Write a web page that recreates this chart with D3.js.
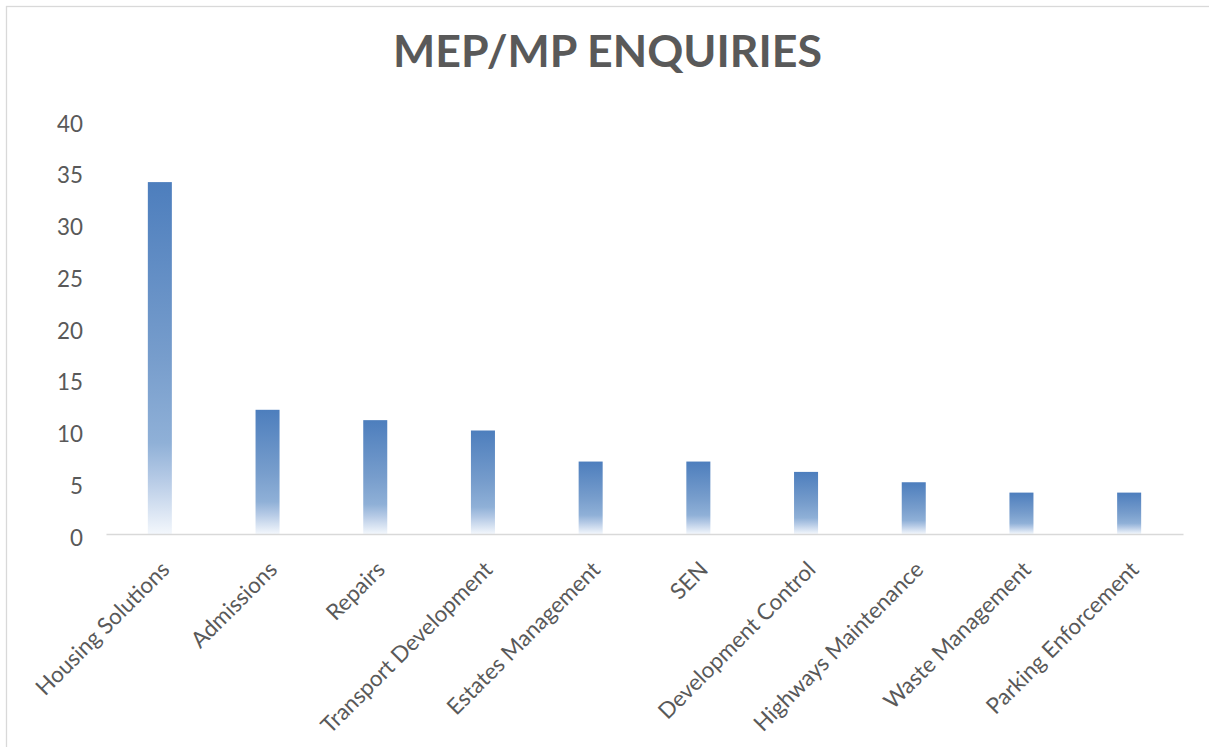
<!DOCTYPE html>
<html>
<head>
<meta charset="utf-8">
<script src="https://cdn.jsdelivr.net/npm/d3@7"></script>
<style>
  html, body { margin: 0; padding: 0; background: #ffffff; }
  svg { display: block; }
</style>
</head>
<body>
<svg id="chart" width="1209" height="747"></svg>
<script>
const titleText = "MEP/MP ENQUIRIES";
const categories = ["Housing Solutions", "Admissions", "Repairs", "Transport Development",
  "Estates Management", "SEN", "Development Control", "Highways Maintenance",
  "Waste Management", "Parking Enforcement"];
const values = [34, 12, 11, 10, 7, 7, 6, 5, 4, 4];
const yTicks = [0, 5, 10, 15, 20, 25, 30, 35, 40];

const W = 1209, H = 747;
const svg = d3.select("#chart");
const FONT = "Lato, 'Open Sans', sans-serif";
const TEXT_COLOR = "#595959";

// chart area border
svg.append("rect")
  .attr("x", 6.5).attr("y", 6.5)
  .attr("width", W + 20).attr("height", H + 20)
  .attr("fill", "#ffffff")
  .attr("stroke", "#d9d9d9").attr("stroke-width", 1.3);

// gradient
const defs = svg.append("defs");
const grad = defs.append("linearGradient")
  .attr("id", "barGrad").attr("x1", 0).attr("y1", 0).attr("x2", 0).attr("y2", 1);
[[0, "#4d7ebd"], [0.5, "#779dcc"], [0.74, "#8fb0d7"], [0.84, "#b4c9e5"], [1, "#f3f7fc"]]
  .forEach(([o, c]) => grad.append("stop").attr("offset", o).attr("stop-color", c));

const x = d3.scaleBand().domain(categories).range([106, 1183])
  .paddingInner(0.777).paddingOuter(0.3885);
const y = d3.scaleLinear().domain([0, 40]).range([534, 120]);

// measure font size for labels
const probe = svg.append("text").attr("font-family", FONT).attr("font-size", 20).text("Housing Solutions");
const probeLen = probe.node().getComputedTextLength();
probe.remove();
const labelSize = Math.max(18, Math.min(26, 20 * 178 / probeLen));

// title
const title = svg.append("text")
  .attr("x", 607.5).attr("y", 67)
  .attr("text-anchor", "middle")
  .attr("font-family", FONT).attr("font-weight", "bold")
  .attr("font-size", 46)
  .attr("fill", TEXT_COLOR)
  .text(titleText);
const tLen = title.node().getComputedTextLength();
title.attr("font-size", Math.max(38, Math.min(54, 46 * 429 / tLen)));

// y axis tick labels (no line)
const yAxis = d3.axisLeft(y).tickValues(yTicks).tickSize(0).tickPadding(0);
const yg = svg.append("g").attr("transform", "translate(83,0)").call(yAxis);
yg.select(".domain").remove();
yg.selectAll("text")
  .attr("font-family", FONT).attr("font-size", labelSize)
  .attr("fill", TEXT_COLOR)
  .attr("dy", "0.32em")
  .attr("transform", "translate(0,4)");

// bars
svg.append("g").selectAll("rect")
  .data(values)
  .join("rect")
  .attr("x", (d, i) => x(categories[i]))
  .attr("y", d => y(d))
  .attr("width", x.bandwidth())
  .attr("height", d => y(0) - y(d))
  .attr("fill", "url(#barGrad)");

// x axis
const xAxis = d3.axisBottom(x).tickSize(0).tickPadding(0);
const xg = svg.append("g").attr("transform", `translate(0,${y(0)})`).call(xAxis);
xg.select(".domain").attr("stroke", "#d9d9d9").attr("stroke-width", 1.5);
xg.selectAll(".tick text")
  .attr("font-family", FONT).attr("font-size", labelSize)
  .attr("fill", TEXT_COLOR)
  .attr("text-anchor", "end")
  .attr("y", 0).attr("dy", 0)
  .attr("transform", "translate(11,37) rotate(-45)");
</script>
</body>
</html>
